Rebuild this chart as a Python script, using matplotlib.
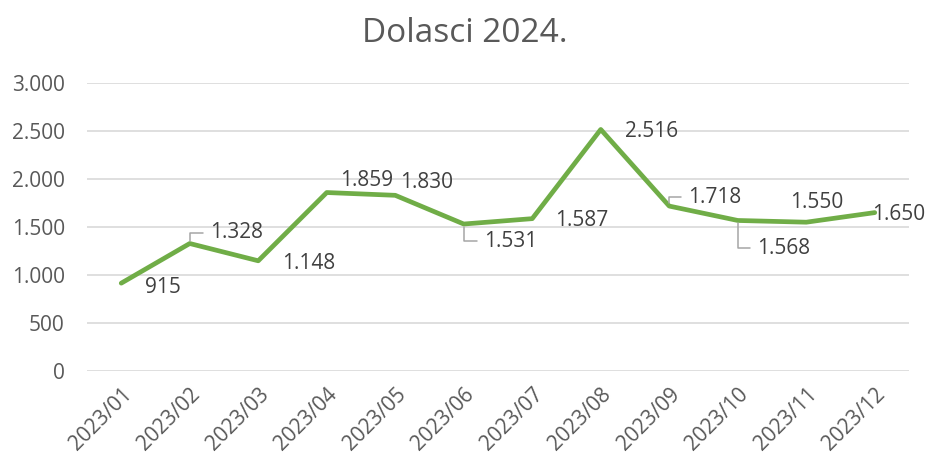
import matplotlib
matplotlib.use("Agg")
import matplotlib.pyplot as plt

# monthly arrivals
months = ['2023/01', '2023/02', '2023/03', '2023/04', '2023/05', '2023/06',
          '2023/07', '2023/08', '2023/09', '2023/10', '2023/11', '2023/12']
arrivals = [915, 1328, 1148, 1859, 1830, 1531, 1587, 2516, 1718, 1568, 1550, 1650]

# label offsets in pixels (dx, dy) and whether a leader line is drawn
label_offsets = [(24, -4), (20, 11), (24, -3), (13, 12), (5, 13), (20, -17),
                 (23, -2), (24, -2), (19, 9), (19, -28), (-16, 20), (-3, -2)]
leaders = [False, True, False, False, False, True,
           False, False, True, True, False, False]


def fmt(v):
    return f"{v:,}".replace(",", ".")


plt.rcParams['font.family'] = ['Open Sans', 'DejaVu Sans']
fig = plt.figure(figsize=(9.3, 4.59), dpi=100)
ax = fig.add_axes([87 / 930, 1 - 371 / 459, 822 / 930, 288 / 459])

x = list(range(len(months)))
ax.plot(x, arrivals, color='#70AD47', linewidth=3.4, solid_joinstyle='round',
        solid_capstyle='round', zorder=3)

ax.set_xlim(-0.5, len(months) - 0.5)
ax.set_ylim(0, 3000)
ax.set_yticks(range(0, 3001, 500))
ax.set_yticklabels([fmt(v) for v in range(0, 3001, 500)])
ax.set_xticks(x)
ax.set_xticklabels(months, rotation=45, ha='right', va='top', rotation_mode='anchor')

ax.grid(axis='y', color='#D9D9D9', linewidth=1.2)
ax.set_axisbelow(True)
for s in ax.spines.values():
    s.set_visible(False)
ax.tick_params(axis='both', length=0, labelsize=15, labelcolor='#595959')
ax.tick_params(axis='y', pad=16)
ax.tick_params(axis='x', pad=9)

for i, v in enumerate(arrivals):
    dx, dy = label_offsets[i]
    kw = {}
    if leaders[i]:
        kw['arrowprops'] = dict(arrowstyle='-', color='#A6A6A6', lw=1.1,
                                connectionstyle='angle,angleA=0,angleB=90,rad=0',
                                shrinkA=3, shrinkB=2)
    ax.annotate(fmt(v), (i, v), xytext=(dx, dy), textcoords='offset pixels',
                ha='left', va='center', fontsize=15, color='#404040',
                annotation_clip=False, **kw)

fig.text(0.5, 1 - 33 / 459, 'Dolasci 2024.', ha='center', va='center',
         fontsize=24, color='#595959')

fig.savefig('out.png', dpi=100)
